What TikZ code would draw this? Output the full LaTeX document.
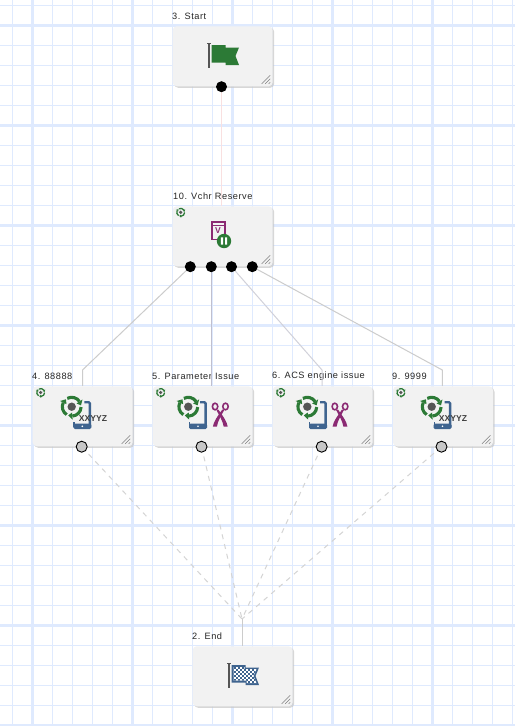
\documentclass[tikz,border=0pt]{standalone}
\usepackage{fontspec}
\setmainfont{Liberation Sans}
\usetikzlibrary{shadows,backgrounds}
\pgfdeclarelayer{gridlayer}\pgfdeclarelayer{lablayer}\pgfdeclarelayer{linelayer}
\pgfsetlayers{gridlayer,lablayer,linelayer,main}
\definecolor{gridc}{HTML}{DFEAFE}
\definecolor{boxc}{HTML}{F2F2F2}
\definecolor{greenc}{HTML}{2C7A36}
\definecolor{bluec}{HTML}{3F648F}
\definecolor{purp}{HTML}{8B2A73}
\definecolor{pole}{HTML}{555555}
\tikzset{
 stepbox/.style={rectangle,rounded corners=4pt,fill=boxc,minimum width=100pt,minimum height=60pt,inner sep=0pt,outer sep=0pt,
   drop shadow={shadow xshift=1.5pt,shadow yshift=-1.5pt,fill=black!22,opacity=0.7}},
 outport/.style={circle,fill=black,minimum size=11pt,inner sep=0pt},
 inport/.style={circle,fill=black!22,draw=black,line width=0.9pt,minimum size=11pt,inner sep=0pt},
 steplabel/.style={anchor=west,inner sep=0pt,font=\fontsize{9.2}{10}\selectfont\addfontfeature{LetterSpace=6},text=black!85},
 conn/.style={draw=black!20,line width=1pt},
 connb/.style={draw=blue!20!black!18!white,line width=1pt},
 dashconn/.style={draw=black!17,line width=1pt,dash pattern=on 5pt off 5pt},
}
% resize handle at the lower right corner of a box
\newcommand{\handle}[1]{%
 \draw[black!50,line width=0.6pt] ([shift={(-4,-2.5)}]#1.south east) -- ([shift={(-2.5,-4)}]#1.south east)
   ([shift={(-7.5,-2.5)}]#1.south east) -- ([shift={(-2.5,-7.5)}]#1.south east)
   ([shift={(-11,-2.5)}]#1.south east) -- ([shift={(-2.5,-11)}]#1.south east);}
% recycle ring: x y scale
\newcommand{\recyc}[3]{%
 \begin{scope}[shift={(#1,#2)},x=1pt,y=1pt,scale=#3]
  \fill[pole] (0,0) circle (4.2);
  \foreach \a in {0,120,240}{
   \begin{scope}[rotate=\a]
    \draw[greenc,line width=#3*3.1pt] (118:9.4) arc (118:34:9.4);
    \fill[greenc] (34:13) -- (34:5.8) -- (8:9.4) -- cycle;
   \end{scope}}
 \end{scope}}
% phone: x y (upper left, y grows downwards in pixels)
\newcommand{\phone}[2]{%
 \begin{scope}[shift={(#1,#2)}]
  \draw[bluec,line width=1.4pt] (0.7,21) -- (0.7,26);
  \draw[bluec,line width=2.4pt,rounded corners=1.2pt] (11,1.2) -- (16.6,1.2) -- (16.6,26);
  \fill[bluec,rounded corners=1.5pt] (0,22.5) -- (18,22.5) -- (18,28) -- (0,28) -- cycle;
  \fill[white] (9,25.3) circle (0.9);
 \end{scope}}
\newcommand{\sciss}[2]{%
 \begin{scope}[shift={(#1,#2)},x=1pt,y=1pt]
  \fill[purp] (-3.8,4.5) -- (-2,5.2) .. controls (3,-2) and (6.8,-7) .. (7.4,-12) -- (3.4,-12) .. controls (2.5,-6) and (-1,-1) .. cycle;
  \fill[purp] (3.8,4.5) -- (2,5.2) .. controls (-3,-2) and (-6.8,-7) .. (-7.4,-12) -- (-3.4,-12) .. controls (-2.5,-6) and (1,-1) .. cycle;
  \draw[purp,line width=1.6pt] (-5.2,8.2) ellipse (2.7 and 3.3);
  \draw[purp,line width=1.6pt] (5.2,8.2) ellipse (2.7 and 3.3);
 \end{scope}}
\newcommand{\flagpath}{(0,0) -- (14,0) -- (14,2.5) -- (27.5,2.5) -- (24,11) -- (27.5,20) -- (14,20) -- (14,17.5) -- (0,17.5) -- cycle}
\newcommand{\pole}[2]{%
 \fill[pole] (#1,#2) rectangle ++(2,25.5);
 \fill[pole] (#1-1,#2) rectangle ++(4,1.5);}
\newcommand{\xtext}[2]{\node[inner sep=0pt,text=black!75,font=\fontsize{8.6}{9}\selectfont\bfseries] at (#1,#2) {XXYYZ};}
\begin{document}
\begin{tikzpicture}[x=1pt,y=-1pt]
\useasboundingbox (0,0) rectangle (515,726);
\begin{pgfonlayer}{gridlayer}
 \fill[white] (0,0) rectangle (515,726);
 \foreach \x in {12.5,52.5,72.5,92.5,112.5,152.5,172.5,192.5,212.5,252.5,272.5,292.5,312.5,352.5,372.5,392.5,412.5,452.5,472.5,492.5,512.5}
   \draw[gridc,line width=1.2pt] (\x,0) -- (\x,726);
 \foreach \y in {5.5,45.5,65.5,85.5,105.5,145.5,165.5,185.5,205.5,245.5,265.5,285.5,305.5,345.5,365.5,385.5,405.5,445.5,465.5,485.5,505.5,545.5,565.5,585.5,605.5,645.5,665.5,685.5,705.5}
   \draw[gridc,line width=1.2pt] (0,\y) -- (515,\y);
 \foreach \x in {32.5,132.5,232.5,332.5,432.5}
   \draw[gridc,line width=3pt] (\x,0) -- (\x,726);
 \foreach \y in {25.5,125.5,225.5,325.5,425.5,525.5,625.5,725.5}
   \draw[gridc,line width=3pt] (0,\y) -- (515,\y);
\end{pgfonlayer}

\node[stepbox] (start) at (222.7,56.3) {};
\node[stepbox] (vchr)  at (222.7,236.3) {};
\node[stepbox] (n4)    at (82.7,416.3) {};
\node[stepbox] (n5)    at (202.7,416.3) {};
\node[stepbox] (n6)    at (322.7,416.3) {};
\node[stepbox] (n9)    at (443,416.3) {};
\node[stepbox] (endb)  at (242.7,676.3) {};
\handle{start}\handle{vchr}\handle{n4}\handle{n5}\handle{n6}\handle{n9}\handle{endb}

\begin{pgfonlayer}{lablayer}
 \node[steplabel] (l3)  at (172,16.5) {3. Start};
 \node[steplabel] (l10) at (173,196.5) {10. Vchr Reserve};
 \node[steplabel] (l4)  at (32,376.5) {4. 88888};
 \node[steplabel] (l5)  at (152,376.5) {5. Parameter Issue};
 \node[steplabel] (l6)  at (272,376.5) {6. ACS engine issue};
 \node[steplabel] (l9)  at (392,376.5) {9. 9999};
 \node[steplabel] (l2)  at (192,636.5) {2. End};
\end{pgfonlayer}

\node[outport] (ps)  at (221.5,86.7) {};
\node[outport] (p1)  at (190.3,266.7) {};
\node[outport] (p2)  at (211.3,266.7) {};
\node[outport] (p3)  at (231.5,266.7) {};
\node[outport] (p4)  at (252.3,266.7) {};
\node[inport] (i4) at (81.7,446.7) {};
\node[inport] (i5) at (201.5,446.7) {};
\node[inport] (i6) at (321.7,446.7) {};
\node[inport] (i9) at (441.5,446.7) {};

\coordinate (c4) at (82.5,370);
\coordinate (c6) at (322,370);
\coordinate (c9) at (442.3,370);
\coordinate (e4) at (82.5,386);
\coordinate (e5) at (211.3,386);
\coordinate (e6) at (322,386);
\coordinate (e9) at (442.3,386);
\coordinate (ve) at (221.5,206);
\coordinate (mrg) at (242,619);
\coordinate (ee) at (242,646);
\begin{pgfonlayer}{linelayer}
 \draw[draw=black!20!red!12!white,line width=1pt] (ps.center) -- (ve);
 \draw[conn] (p1.center) -- (c4) -- (e4);
 \draw[draw=blue!25!black!25!white,line width=1pt] (p2.center) -- (e5);
 \draw[connb] (p3.center) -- (c6) -- (e6);
 \draw[conn] (p4.center) -- (c9) -- (e9);
 \draw[dashconn] (i4.center) -- (mrg);
 \draw[dashconn] (i5.center) -- (mrg);
 \draw[dashconn] (i6.center) -- (mrg);
 \draw[dashconn] (i9.center) -- (mrg);
 \draw[conn] (mrg) -- (ee);
\end{pgfonlayer}

% Start flag
\pole{208}{42.7}
\begin{scope}[shift={(211.5,45)}]
 \fill[greenc] \flagpath;
\end{scope}
% End flag
\pole{228}{662.7}
\begin{scope}[shift={(231.5,665)}]
 \fill[bluec] \flagpath;
 \begin{scope}
  \clip (2,2) -- (13,2) -- (13,4) -- (25,4) -- (22,11) -- (25,18) -- (15,18) -- (15,15.5) -- (2,15.5) -- cycle;
  \fill[white] (0,0) rectangle (28,20);
  \foreach \i in {0,...,13}\foreach \j in {0,...,9}{
    \pgfmathparse{int(mod(\i+\j,2))}
    \ifnum\pgfmathresult=0 \fill[bluec] (2*\i,2*\j) rectangle ++(2,2);\fi}
 \end{scope}
\end{scope}
% Voucher icon
\draw[purp,line width=2pt] (212,239.8) -- (212,222) -- (224.5,222) -- (224.5,234);
\draw[purp,line width=1pt] (212,225.3) -- (224,225.3);
\node[inner sep=0pt,text=purp,font=\fontsize{8.5}{9}\selectfont\bfseries] at (218,231) {V};
\draw[purp,line width=1.8pt] (212,239.5) -- (218,239.5);
\fill[greenc] (224,241) circle (7.2);
\fill[white] (220.8,237.3) rectangle (223,244.7) (225,237.3) rectangle (227.2,244.7);
% small markers
\recyc{180.7}{212.3}{0.42}
\recyc{40.7}{392.5}{0.42}
\recyc{160.7}{392.5}{0.42}
\recyc{280.7}{392.5}{0.42}
\recyc{400.9}{392.5}{0.42}
% step icons
\phone{73.3}{401}\recyc{71.7}{406.7}{1}\xtext{93}{419}
\phone{189}{401}\recyc{188.3}{406.7}{1}\sciss{220.3}{414.7}
\phone{309}{401}\recyc{307.3}{406.7}{1}\sciss{340}{414.7}
\phone{433.5}{401}\recyc{431.7}{406.7}{1}\xtext{453}{419}
\end{tikzpicture}
\end{document}
